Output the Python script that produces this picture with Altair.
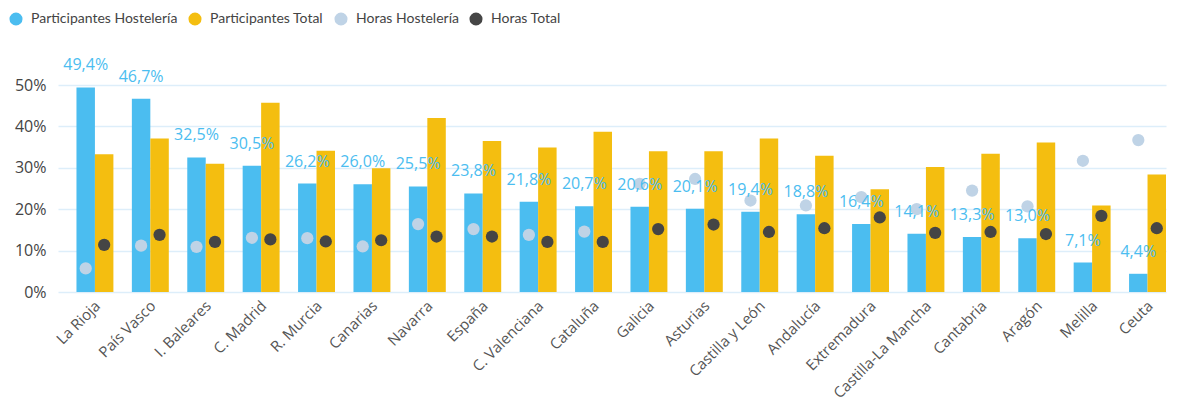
import altair as alt
import pandas as pd

regions = ["La Rioja", "País Vasco", "I. Baleares", "C. Madrid", "R. Murcia", "Canarias",
           "Navarra", "España", "C. Valenciana", "Cataluña", "Galicia", "Asturias",
           "Castilla y León", "Andalucía", "Extremadura", "Castilla-La Mancha",
           "Cantabria", "Aragón", "Melilla", "Ceuta"]
part_host = [49.4, 46.7, 32.5, 30.5, 26.2, 26.0, 25.5, 23.8, 21.8, 20.7,
             20.6, 20.1, 19.4, 18.8, 16.4, 14.1, 13.3, 13.0, 7.1, 4.4]
part_total = [33.3, 37.1, 31.0, 45.7, 34.1, 29.9, 42.0, 36.5, 34.9, 38.7,
              34.0, 34.0, 37.1, 32.9, 24.8, 30.2, 33.4, 36.1, 20.9, 28.4]
horas_host = [5.7, 11.2, 10.9, 13.1, 13.0, 11.0, 16.4, 15.2, 13.8, 14.6,
              26.1, 27.3, 22.1, 20.9, 22.9, 20.0, 24.5, 20.7, 31.7, 36.7]
horas_total = [11.4, 13.8, 12.1, 12.7, 12.2, 12.5, 13.4, 13.4, 12.1, 12.1,
               15.2, 16.3, 14.5, 15.4, 18.0, 14.3, 14.5, 14.0, 18.4, 15.4]

series = ["Participantes Hostelería", "Participantes Total", "Horas Hostelería", "Horas Total"]
colors = ["#4BBDF0", "#F4BE10", "#BFD3E6", "#454545"]
slots = {"Participantes Hostelería": "h", "Participantes Total": "t",
         "Horas Hostelería": "h", "Horas Total": "t"}

rows = []
for s, vals in zip(series, [part_host, part_total, horas_host, horas_total]):
    for r, v in zip(regions, vals):
        rows.append({"region": r, "serie": s, "value": v, "slot": slots[s],
                     "label": f"{v:.1f}".replace(".", ",") + "%"})
df = pd.DataFrame(rows)

x = alt.X("region:N", sort=regions, title=None,
          scale=alt.Scale(paddingInner=0, paddingOuter=0),
          axis=alt.Axis(labelAngle=-45, labelFontSize=15, labelColor="#555555",
                        labelFont="Open Sans", ticks=False, domain=False,
                        labelPadding=6, labelOffset=7, grid=False))
xoff = alt.XOffset("slot:N", scale=alt.Scale(domain=["_", "h", "t"], paddingInner=0, paddingOuter=0))
y = alt.Y("value:Q", title=None,
          scale=alt.Scale(domain=[0, 50], nice=False),
          axis=alt.Axis(values=[0, 10, 20, 30, 40, 50], labelExpr="datum.value + '%'",
                        labelFontSize=16, labelColor="#444444", labelFont="Open Sans",
                        ticks=False, domain=False, labelPadding=12,
                        grid=True, gridColor="#DDEEFA", gridWidth=1.5))
color = alt.Color("serie:N", scale=alt.Scale(domain=series, range=colors),
                  legend=alt.Legend(title=None, orient="none", direction="horizontal",
                                    legendX=-49, legendY=-73, symbolType="circle",
                                    symbolSize=170, labelFontSize=14,
                                    labelFont="Lato",
                                    labelColor="#444444", columnPadding=10, labelOffset=8,
                                    padding=0, symbolStrokeWidth=0))

base = alt.Chart(df)
bars = base.transform_filter(
    alt.FieldOneOfPredicate(field="serie", oneOf=series[:2])
).mark_bar().encode(x=x, xOffset=xoff, y=y, color=color)
dots = base.transform_filter(
    alt.FieldOneOfPredicate(field="serie", oneOf=series[2:])
).mark_circle(size=150, opacity=1).encode(x=x, xOffset=xoff, y=y, color=color)
labels = base.transform_filter(
    alt.FieldEqualPredicate(field="serie", equal=series[0])
).mark_text(baseline="bottom", dy=-14, fontSize=16, font="Open Sans", color="#4BBDF0").encode(
    x=x, xOffset=xoff, y=y, text="label:N")

chart = alt.layer(bars, dots, labels).properties(
    width=1108, height=207, autosize=alt.AutoSizeParams(type="none"),
    padding={"left": 50, "top": 77, "right": 6, "bottom": 120}
).configure_view(stroke=None)

chart.save("out.html", embed_options={"renderer": "svg", "actions": False})
